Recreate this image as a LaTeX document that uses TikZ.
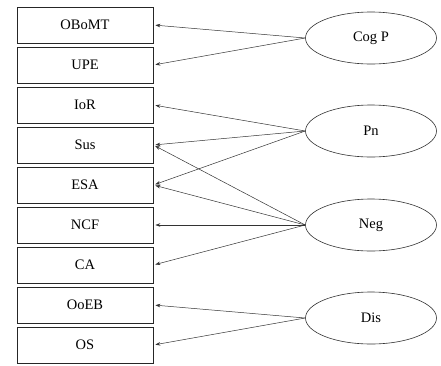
\documentclass[tikz,border=0pt]{standalone}
\usepackage{fontspec}
\setmainfont{Liberation Serif}
\usetikzlibrary{arrows.meta,shapes.geometric}

\tikzset{
  item/.style={draw=black!85, line width=0.7pt, minimum width=136pt, minimum height=36pt, inner sep=0pt},
  factor/.style={draw=black!80, line width=0.6pt, ellipse, minimum width=131pt, minimum height=52pt, inner sep=0pt},
  link/.style={draw=black!80, line width=0.5pt, -{Stealth[length=5pt,width=3.5pt]}, shorten >=2pt}
}

\begin{document}
\begin{tikzpicture}[x=1pt,y=-1pt,font=\fontsize{14.5}{17}\selectfont]
\useasboundingbox (0,0) rectangle (441,365);

\node[item] (oboMT) at (85,25) {OBoMT};
\node[item] (upe) at (85,65) {UPE};
\node[item] (ior) at (85,105) {IoR};
\node[item] (sus) at (85,145) {Sus};
\node[item] (esa) at (85,185) {ESA};
\node[item] (ncf) at (85,225) {NCF};
\node[item] (ca) at (85,265) {CA};
\node[item] (ooeb) at (85,305) {OoEB};
\node[item] (os) at (85,345) {OS};

\node[factor] (cogP) at (371,38) {Cog P};
\node[factor] (pn) at (371,131) {Pn};
\node[factor] (neg) at (371,225) {Neg};
\node[factor] (dis) at (371,318) {Dis};

\draw[link] (cogP.west) -- (oboMT.east);
\draw[link] (cogP.west) -- (upe.east);

\draw[link] (pn.west) -- (ior.east);
\draw[link] (pn.west) -- (sus.east);
\draw[link] (pn.west) -- (esa.east);

\draw[link] (neg.west) -- (sus.east);
\draw[link] (neg.west) -- (esa.east);
\draw[link] (neg.west) -- (ncf.east);
\draw[link] (neg.west) -- (ca.east);

\draw[link] (dis.west) -- (ooeb.east);
\draw[link] (dis.west) -- (os.east);
\end{tikzpicture}
\end{document}
